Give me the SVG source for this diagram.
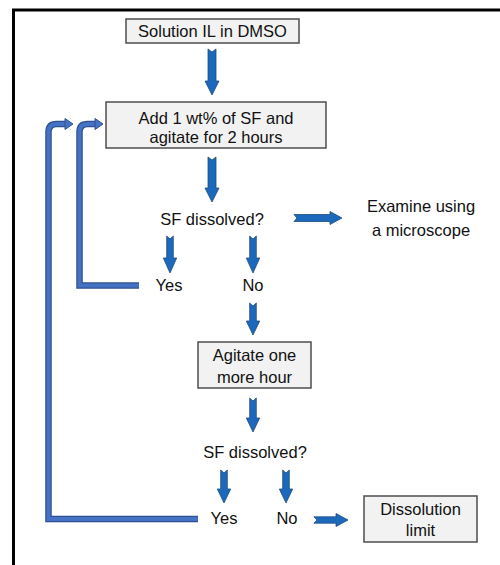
<svg xmlns="http://www.w3.org/2000/svg" width="500" height="565" viewBox="0 0 500 565">
<style>
.box{fill:#f2f2f2;stroke:#4d4d4d;stroke-width:1.5}
.t{font-family:"Liberation Sans",Arial,sans-serif;font-size:16.5px;fill:#111;text-anchor:middle}
.arr{fill:#1c68bd;stroke:#1f4e79;stroke-width:0.8;stroke-linejoin:miter}
.loopO{fill:none;stroke:#2f528f;stroke-width:6.5}
.loopI{fill:none;stroke:#4472c4;stroke-width:4}
.lhead{fill:#4472c4;stroke:#2f528f;stroke-width:1}
</style>
<rect width="500" height="565" fill="#ffffff"/>
<g id="frame">
<path d="M13.5,565 V10 H500" fill="none" stroke="#000" stroke-width="3"/>
</g>
<g id="connectors">
<path class="arr" d="M208,49 L212,52 L216,49 L216,81 L219,81 L212,95 L205,81 L208,81 Z"/>
<path class="arr" d="M208,157 L212,160 L216,157 L216,188 L219,188 L212,202 L205,188 L208,188 Z"/>
<path class="arr" d="M294,214.5 L297,218 L294,221.5 L330,221.5 L330,224.5 L342,218 L330,211.5 L330,214.5 Z"/>
<path class="arr" d="M166.7,236 L170,239 L173.3,236 L173.3,258 L176.7,258 L170,273 L163.3,258 L166.7,258 Z"/>
<path class="arr" d="M249.7,236 L253,239 L256.3,236 L256.3,258 L259.7,258 L253,273 L246.3,258 L249.7,258 Z"/>
<path class="arr" d="M249.7,303 L253,306 L256.3,303 L256.3,321 L259.7,321 L253,335 L246.3,321 L249.7,321 Z"/>
<path class="arr" d="M249.7,398 L253,401 L256.3,398 L256.3,418 L259.7,418 L253,432 L246.3,418 L249.7,418 Z"/>
<path class="arr" d="M220.7,470 L224,473 L227.3,470 L227.3,489 L230.7,489 L224,503 L217.3,489 L220.7,489 Z"/>
<path class="arr" d="M282.7,470 L286,473 L289.3,470 L289.3,489 L292.7,489 L286,503 L279.3,489 L282.7,489 Z"/>
<path class="arr" d="M314,516.8 L317,520 L314,523.2 L336,523.2 L336,526.5 L348,520 L336,513.5 L336,516.8 Z"/>
<g id="loop-inner">
<path class="loopO" d="M139,285.5 H79.5 V132 Q79.5,124 87.5,124 H96"/>
<path class="loopI" d="M139,285.5 H79.5 V132 Q79.5,124 87.5,124 H96"/>
<path class="lhead" d="M95,118.5 L103,124 L95,129.5 Z"/>
</g>
<g id="loop-outer">
<path class="loopO" d="M198,519 H48.5 V132 Q48.5,124 56.5,124 H66"/>
<path class="loopI" d="M198,519 H48.5 V132 Q48.5,124 56.5,124 H66"/>
<path class="lhead" d="M65,118.5 L73,124 L65,129.5 Z"/>
</g>
</g>
<g id="n1">
<rect class="box" x="126" y="19" width="173" height="24"/>
<text class="t" x="212.5" y="37">Solution IL in DMSO</text>
</g>
<g id="n2">
<rect class="box" x="106" y="102" width="220" height="46"/>
<text class="t" x="216" y="124">Add 1 wt% of SF and</text>
<text class="t" x="216" y="143">agitate for 2 hours</text>
</g>
<g id="n3">
<text class="t" x="212" y="225">SF dissolved?</text>
</g>
<g id="n4">
<text class="t" x="421" y="212">Examine using</text>
<text class="t" x="421" y="236">a microscope</text>
</g>
<g id="n5">
<text class="t" x="169" y="291">Yes</text>
</g>
<g id="n6">
<text class="t" x="253" y="291">No</text>
</g>
<g id="n7">
<rect class="box" x="198" y="342" width="113" height="46"/>
<text class="t" x="254.5" y="361">Agitate one</text>
<text class="t" x="254.5" y="383">more hour</text>
</g>
<g id="n8">
<text class="t" x="255" y="458">SF dissolved?</text>
</g>
<g id="n9">
<text class="t" x="224" y="524">Yes</text>
</g>
<g id="n10">
<text class="t" x="287" y="524">No</text>
</g>
<g id="n11">
<rect class="box" x="364" y="496" width="113" height="46"/>
<text class="t" x="420.5" y="515">Dissolution</text>
<text class="t" x="420.5" y="536">limit</text>
</g>
</svg>
